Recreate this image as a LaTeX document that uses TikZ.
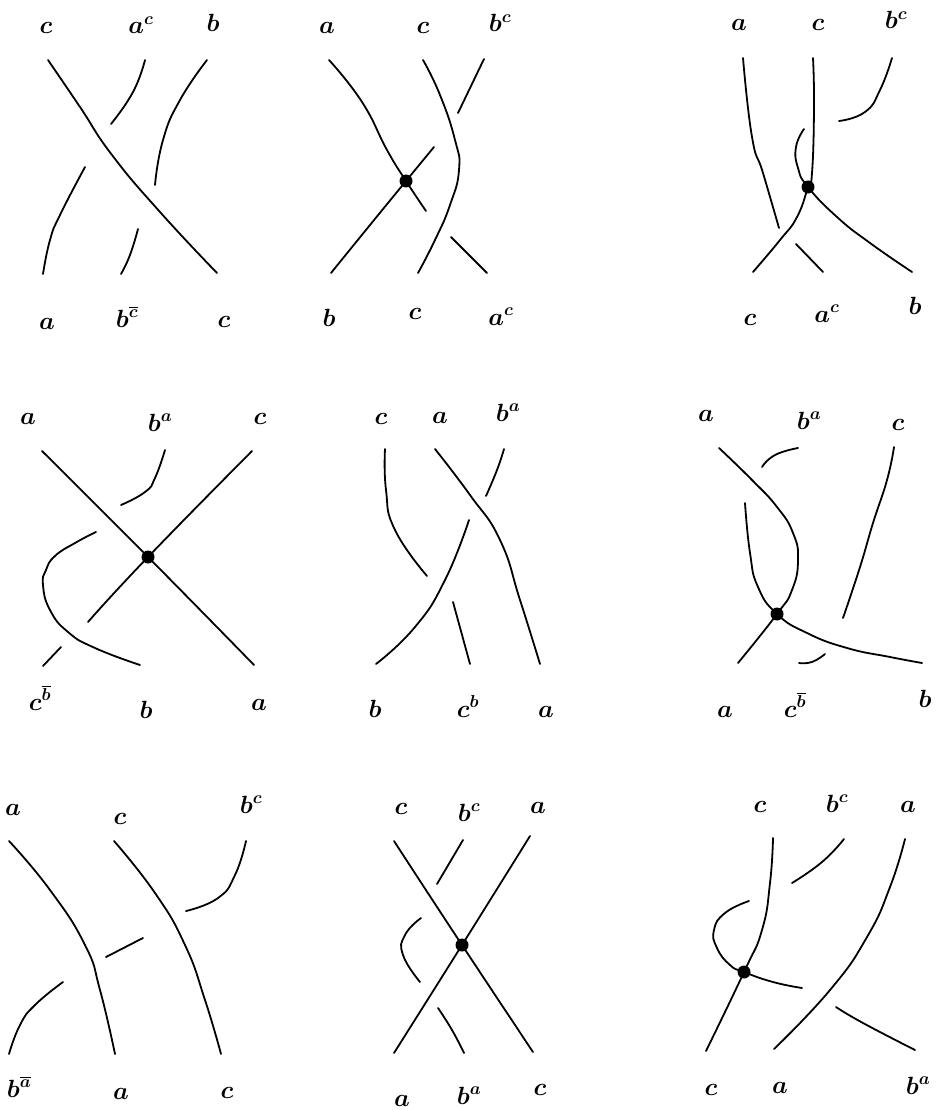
\documentclass[tikz,border=0pt]{standalone}
\usepackage{amsmath,amssymb}
\begin{document}
\begin{tikzpicture}[x=1pt,y=-1pt,
			mycirc/.style={circle,fill=black,inner sep=0pt,minimum size=13pt},
			strand/.style={line width=1.8pt,line cap=round,smooth,tension=.85},
			lab/.style={inner sep=0pt,anchor=base,font=\fontsize{26}{26}\selectfont\boldmath}
			]
			\useasboundingbox (0,0) rectangle (935,1110);
			% top row
			\node[lab] (c1) at (46,34) {$c$};
			\node[lab] (ac1) at (141,34) {$a^c$};
			\node[lab] (b1) at (213,32) {$b$};
			\node[lab] (a1) at (47,329) {$a$};
			\node[lab] (bc1) at (127,327) {$b^{\overline{c}}$};
			\node[lab] (d1) at (224,327) {$c$};
			\draw[strand] plot coordinates {(48,60) (80,107) (112,155) (160,212) (217,273)};
			\draw[strand] plot coordinates {(145,60) (133,92) (111,124)};
			\draw[strand] plot coordinates {(207,60) (180,100) (163,140) (155,185)};
			\draw[strand] plot coordinates {(85,167) (60,215) (50,240) (43,274)};
			\draw[strand] plot coordinates {(138,229) (130,255) (121,274)};
			%%%%%%%%%%%%%%%
			\node[lab] (a2) at (327,34) {$a$};
			\node[lab] (c2) at (423,34) {$c$};
			\node[lab] (bc2) at (500,32) {$b^c$};
			\node[lab] (b2) at (329,326) {$b$};
			\node[lab] (d2) at (415,319) {$c$};
			\node[lab] (ac2) at (501,325) {$a^c$};
			\node[mycirc] (p2) at (406,181) {};
			\draw[strand] plot coordinates {(329,60) (362,102) (387,150) (406,181) (426,211)};
			\draw[strand] plot coordinates {(331,273) (370,225) (406,181) (434,147)};
			\draw[strand] plot coordinates {(423,60) (440,95) (455,140) (459,170) (450,205) (435,240) (418,273)};
			\draw[strand] plot coordinates {(484,59) (458,113)};
			\draw[strand] plot coordinates {(451,237) (487,273)};
			%%%%%%%%%%%%%%%
			\node[lab] (a3) at (739,31) {$a$};
			\node[lab] (c3) at (818,31) {$c$};
			\node[lab] (bc3) at (896,29) {$b^c$};
			\node[lab] (d3) at (750,325) {$c$};
			\node[lab] (ac3) at (827,322) {$a^c$};
			\node[lab] (b3) at (915,314) {$b$};
			\node[mycirc] (p3) at (808,187) {};
			\draw[strand] plot coordinates {(743,58) (752,137) (763,173) (779,228)};
			\draw[strand] plot coordinates {(813,58) (814,107) (812,173) (808,187) (797,217) (780,240) (753,272)};
			\draw[strand] plot coordinates {(892,58) (880,90) (865,112) (839,121)};
			\draw[strand] plot coordinates {(804,129) (796,147) (798,168) (808,187) (837,217) (870,243) (912,272)};
			\draw[strand] plot coordinates {(796,244) (823,272)};
			% middle row
			\node[lab] (a4) at (28,424) {$a$};
			\node[lab] (ba4) at (160,431) {$b^a$};
			\node[lab] (c4) at (260,424) {$c$};
			\node[lab] (cb4) at (40,710) {$c^{\overline{b}}$};
			\node[lab] (b4) at (146,718) {$b$};
			\node[lab] (d4) at (259,710) {$a$};
			\node[mycirc] (p4) at (148,557) {};
			\draw[strand] plot coordinates {(42,451) (148,557) (254,665)};
			\draw[strand] plot coordinates {(252,451) (148,557) (88,622)};
			\draw[strand] plot coordinates {(165,450) (155,478) (145,492) (121,505)};
			\draw[strand] plot coordinates {(96,532) (75,543) (55,556) (46,570) (43,585) (50,610) (68,632) (95,648) (140,665)};
			\draw[strand] plot coordinates {(61,647) (43,666)};
			%%%%%%%%%%%%%%%
			\node[lab] (c5) at (381,424) {$c$};
			\node[lab] (a5) at (440,423) {$a$};
			\node[lab] (ba5) at (508,421) {$b^a$};
			\node[lab] (b5) at (375,717) {$b$};
			\node[lab] (cb5) at (468,717) {$c^b$};
			\node[lab] (d5) at (546,717) {$a$};
			\draw[strand] plot coordinates {(385,449) (386,490) (395,530) (427,576)};
			\draw[strand] plot coordinates {(435,449) (470,495) (500,540) (520,600) (540,664)};
			\draw[strand] plot coordinates {(504,449) (497,470) (486,496)};
			\draw[strand] plot coordinates {(376,664) (415,627) (445,580) (469,520)};
			\draw[strand] plot coordinates {(453,602) (470,664)};
			%%%%%%%%%%%%%%%
			\node[lab] (a6) at (706,421) {$a$};
			\node[lab] (ba6) at (809,429) {$b^a$};
			\node[lab] (c6) at (898,430) {$c$};
			\node[lab] (d6) at (725,717) {$a$};
			\node[lab] (cb6) at (795,717) {$c^{\overline{b}}$};
			\node[lab] (b6) at (925,707) {$b$};
			\node[mycirc] (p6) at (777,614) {};
			\draw[strand] plot coordinates {(719,448) (752,480) (777,507) (793,533) (798,560) (792,590) (777,614) (738,663)};
			\draw[strand] plot coordinates {(798,448) (775,455) (762,467)};
			\draw[strand] plot coordinates {(894,447) (887,480) (873,523) (860,567) (843,618)};
			\draw[strand] plot coordinates {(745,503) (750,553) (758,587) (777,614) (807,633) (847,648) (890,657) (922,663)};
			\draw[strand] plot coordinates {(825,654) (812,662) (799,663)};
			% bottom row
			\node[lab] (a7) at (13,815) {$a$};
			\node[lab] (c7) at (120,824) {$c$};
			\node[lab] (bc7) at (251,813) {$b^c$};
			\node[lab] (ba7) at (19,1097) {$b^{\overline{a}}$};
			\node[lab] (d7) at (121,1099) {$a$};
			\node[lab] (e7) at (227,1098) {$c$};
			\draw[strand] plot coordinates {(9,841) (50,890) (85,945) (100,990) (115,1054)};
			\draw[strand] plot coordinates {(114,841) (155,893) (185,945) (205,1000) (221,1054)};
			\draw[strand] plot coordinates {(246,841) (235,875) (218,898) (186,911)};
			\draw[strand] plot coordinates {(143,938) (106,957)};
			\draw[strand] plot coordinates {(63,982) (35,1005) (20,1025) (9,1054)};
			%%%%%%%%%%%%%%%
			\node[lab] (c8) at (401,814) {$c$};
			\node[lab] (bc8) at (469,821) {$b^c$};
			\node[lab] (a8) at (538,813) {$a$};
			\node[lab] (d8) at (402,1106) {$a$};
			\node[lab] (ba8) at (469,1104) {$b^a$};
			\node[lab] (e8) at (540,1095) {$c$};
			\node[mycirc] (p8) at (462,945) {};
			\draw[strand] plot coordinates {(394,841) (462,945) (533,1052)};
			\draw[strand] plot coordinates {(530,836) (462,945) (394,1053)};
			\draw[strand] plot coordinates {(463,840) (437,884)};
			\draw[strand] plot coordinates {(421,918) (405,935) (403,955) (420,982)};
			\draw[strand] plot coordinates {(438,1008) (452,1030) (464,1053)};
			%%%%%%%%%%%%%%%
			\node[lab] (c9) at (760,812) {$c$};
			\node[lab] (bc9) at (837,812) {$b^c$};
			\node[lab] (a9) at (908,812) {$a$};
			\node[lab] (d9) at (711,1095) {$c$};
			\node[lab] (e9) at (780,1093) {$a$};
			\node[lab] (ba9) at (918,1094) {$b^a$};
			\node[mycirc] (p9) at (744,972) {};
			\draw[strand] plot coordinates {(773,838) (770,883) (762,930) (744,972) (706,1051)};
			\draw[strand] plot coordinates {(844,839) (822,862) (792,883)};
			\draw[strand] plot coordinates {(749,901) (725,913) (714,930) (717,948) (730,965) (744,972) (773,982) (802,988)};
			\draw[strand] plot coordinates {(905,839) (890,887) (867,937) (830,990) (774,1049)};
			\draw[strand] plot coordinates {(836,1007) (863,1023) (915,1050)};
		\end{tikzpicture}
\end{document}
